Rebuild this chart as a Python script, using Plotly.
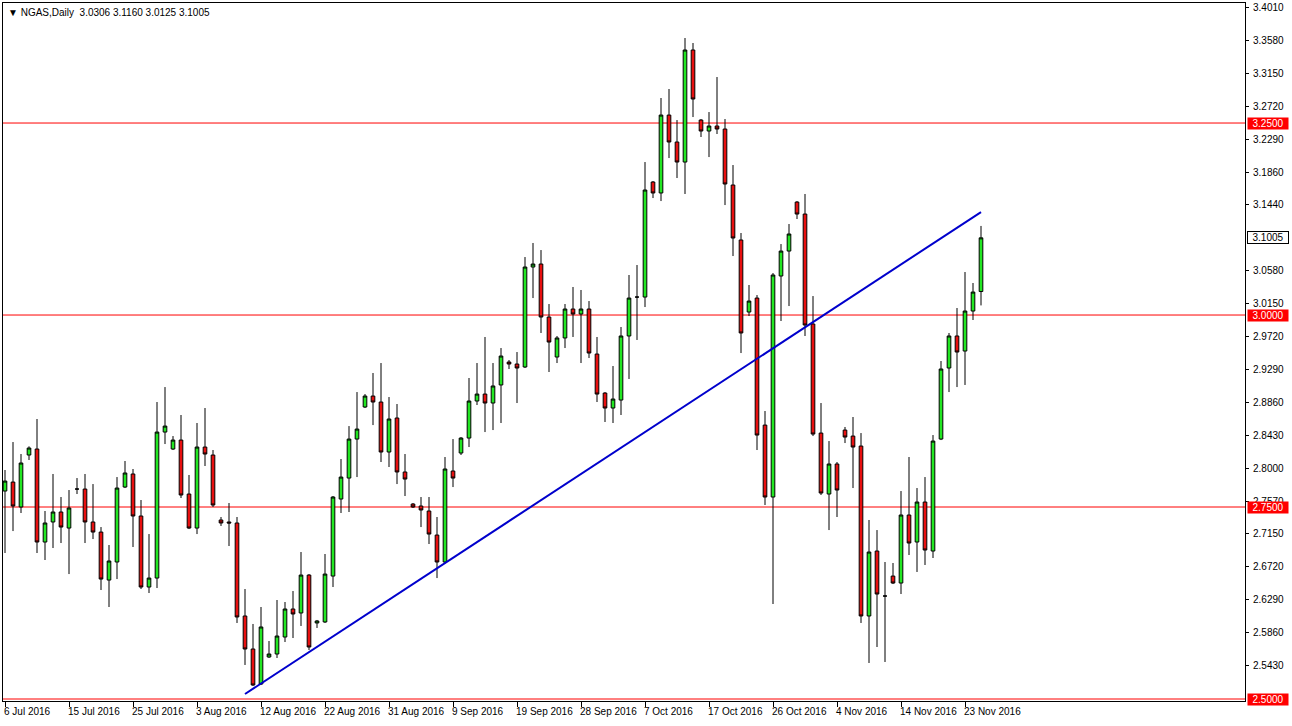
import plotly.graph_objects as go
import pandas as pd

# trading calendar of the feed (Sunday..Friday bars)
dates = pd.bdate_range('2016-07-06', '2016-11-25', freq='C',
                       weekmask='Sun Mon Tue Wed Thu Fri').strftime('%Y-%m-%d').tolist()

opens = [2.7708, 2.7825, 2.7500, 2.8177, 2.8255, 2.7044, 2.7305, 2.7435, 2.7226, 2.7734,
         2.7734, 2.7305, 2.7174, 2.6549, 2.6784, 2.7760, 2.7930, 2.7383, 2.6458, 2.6575,
         2.8476, 2.8255, 2.8372, 2.7669, 2.7226, 2.8281, 2.8177, 2.7331, 2.7305, 2.7292,
         2.6081, 2.5651, 2.5195, 2.5547, 2.5586, 2.5807, 2.6172, 2.6120, 2.6614, 2.5990,
         2.6003, 2.6601, 2.7604, 2.7877, 2.8385, 2.8802, 2.8945, 2.8867, 2.8216, 2.8659,
         2.7956, 2.7539, 2.7513, 2.7448, 2.7135, 2.6784, 2.7969, 2.8203, 2.8398, 2.8880,
         2.8971, 2.8854, 2.9089, 2.9388, 2.9362, 2.9323, 3.0625, 3.0664, 2.9974, 2.9453,
         2.9701, 3.0078, 3.0013, 3.0078, 2.9492, 2.8984, 2.8789, 2.8893, 2.9727, 3.0234,
         3.0234, 3.1732, 3.1589, 3.2604, 3.2253, 3.1992, 3.3451, 3.2539, 3.2396, 3.2461,
         3.2422, 3.1693, 3.0977, 3.0039, 3.0221, 2.8567, 2.7630, 3.0508, 3.0833, 3.1471,
         3.1315, 2.9883, 2.8463, 2.7669, 2.8060, 2.8502, 2.8424, 2.8294, 2.6081, 2.6927,
         2.6341, 2.6601, 2.6510, 2.7396, 2.7044, 2.7565, 2.6927, 2.8385, 2.9310, 2.9727,
         2.9531, 3.0052, 3.0306]
highs = [2.7982, 2.8346, 2.8190, 2.8290, 2.8646, 2.7448, 2.7930, 2.7630, 2.7721, 2.7877,
         2.7930, 2.7799, 2.7239, 2.7005, 2.7890, 2.8099, 2.7995, 2.7591, 2.7148, 2.8867,
         2.9062, 2.8424, 2.8698, 2.7917, 2.8594, 2.8789, 2.8242, 2.7370, 2.7552, 2.7370,
         2.6432, 2.5977, 2.6198, 2.5755, 2.6289, 2.6263, 2.6406, 2.6914, 2.6627, 2.6029,
         2.6888, 2.7643, 2.8125, 2.8554, 2.8997, 2.8971, 2.9245, 2.9375, 2.8932, 2.8841,
         2.8190, 2.7552, 2.7630, 2.7630, 2.7370, 2.8151, 2.8385, 2.8411, 2.9180, 2.9375,
         2.9714, 2.9375, 2.9570, 2.9414, 2.9518, 3.0755, 3.0938, 3.0846, 3.0143, 2.9727,
         3.0143, 3.0365, 3.0326, 3.0182, 2.9714, 2.8997, 2.9336, 2.9844, 3.0521, 3.0651,
         3.1992, 3.1745, 3.2826, 3.2943, 3.2539, 3.3607, 3.3542, 3.2552, 3.2643, 3.3099,
         3.2552, 3.1953, 3.1068, 3.0391, 3.0260, 2.8750, 3.0547, 3.0924, 3.1185, 3.1484,
         3.1576, 3.0247, 2.8854, 2.8359, 2.8086, 2.8542, 2.8672, 2.8463, 2.7331, 2.7200,
         2.6784, 2.6771, 2.7708, 2.8151, 2.7747, 2.7890, 2.8437, 2.9401, 2.9766, 3.0091,
         3.0560, 3.0417, 3.1160]
lows = [2.6901, 2.7187, 2.7422, 2.8112, 2.6901, 2.6810, 2.6966, 2.7031, 2.6627, 2.7669,
        2.7031, 2.7083, 2.6419, 2.6198, 2.6562, 2.7747, 2.6979, 2.6432, 2.6380, 2.6445,
        2.8320, 2.8242, 2.7617, 2.7213, 2.7148, 2.8034, 2.7500, 2.7253, 2.6992, 2.5990,
        2.5443, 2.5169, 2.5182, 2.5534, 2.5534, 2.5742, 2.5794, 2.5951, 2.5638, 2.5925,
        2.5990, 2.6458, 2.7422, 2.7435, 2.7890, 2.8789, 2.8567, 2.8086, 2.8021, 2.7799,
        2.7643, 2.7487, 2.7239, 2.7018, 2.6575, 2.6771, 2.7760, 2.8177, 2.8281, 2.8828,
        2.8476, 2.8502, 2.8594, 2.9297, 2.8854, 2.9310, 3.0221, 2.9766, 2.9258, 2.9375,
        2.9570, 2.9714, 2.9375, 2.9440, 2.8867, 2.8607, 2.8594, 2.8698, 2.9167, 2.9675,
        3.0104, 3.1523, 3.1484, 3.2044, 3.1784, 3.1576, 3.2578, 3.2318, 3.2057, 3.2357,
        3.1432, 3.0768, 2.9505, 2.9987, 2.8242, 2.7526, 2.6237, 2.9922, 3.0117, 3.1250,
        2.9727, 2.8424, 2.7656, 2.7200, 2.7370, 2.8333, 2.7747, 2.5990, 2.5469, 2.5677,
        2.5482, 2.6497, 2.6367, 2.6875, 2.6654, 2.6745, 2.6836, 2.8372, 2.8997, 2.9062,
        2.9089, 2.9935, 3.0125]
closes = [2.7838, 2.7513, 2.8073, 2.8268, 2.7044, 2.7292, 2.7435, 2.7239, 2.7487, 2.7734,
          2.7305, 2.7174, 2.6562, 2.6797, 2.7747, 2.7943, 2.7383, 2.6458, 2.6575, 2.8476,
          2.8554, 2.8372, 2.7656, 2.7226, 2.8281, 2.8190, 2.7526, 2.7292, 2.7292, 2.6068,
          2.5651, 2.5182, 2.5938, 2.5586, 2.5820, 2.6172, 2.6107, 2.6614, 2.5677, 2.6016,
          2.6627, 2.7630, 2.7890, 2.8385, 2.8515, 2.8945, 2.8867, 2.8216, 2.8646, 2.7956,
          2.7864, 2.7500, 2.7461, 2.7148, 2.6784, 2.7995, 2.7877, 2.8398, 2.8880, 2.8971,
          2.8854, 2.9076, 2.9466, 2.9362, 2.9310, 3.0625, 3.0664, 2.9974, 2.9648, 2.9701,
          3.0078, 3.0013, 3.0078, 2.9505, 2.8971, 2.8789, 2.8906, 2.9727, 3.0221, 3.0234,
          3.1628, 3.1589, 3.2604, 3.2253, 3.1992, 3.3451, 3.2813, 3.2396, 3.2461, 3.2422,
          3.1706, 3.1003, 2.9766, 3.0182, 2.8437, 2.7630, 3.0521, 3.0833, 3.1055, 3.1315,
          2.9870, 2.8450, 2.7682, 2.8060, 2.7721, 2.8411, 2.8281, 2.6081, 2.6914, 2.6367,
          2.6341, 2.6510, 2.7396, 2.7031, 2.7565, 2.6940, 2.8359, 2.9297, 2.9727, 2.9518,
          3.0052, 3.0299, 3.1005]

date_label_pos = dates[::8]
date_labels = ['6 Jul 2016', '15 Jul 2016', '25 Jul 2016', '3 Aug 2016', '12 Aug 2016',
               '22 Aug 2016', '31 Aug 2016', '9 Sep 2016', '19 Sep 2016', '28 Sep 2016',
               '7 Oct 2016', '17 Oct 2016', '26 Oct 2016', '4 Nov 2016', '14 Nov 2016',
               '23 Nov 2016']
price_ticks = [3.4010, 3.3580, 3.3150, 3.2720, 3.2290, 3.1860, 3.1440, 3.0580, 3.0150,
               2.9720, 2.9290, 2.8860, 2.8430, 2.8000, 2.7570, 2.7150, 2.6720, 2.6290,
               2.5860, 2.5430]
levels = [3.2500, 3.0000, 2.7500, 2.5000]
trend_dates = ['2016-08-10', '2016-11-25']
trend_prices = [2.5065, 3.1341]
header = '\u25BC NGAS,Daily  3.0306 3.1160 3.0125 3.1005'
last_price = 3.1005

FONT = 'Liberation Sans'
GREEN = '#22e622'
RED = '#e81010'

fig = go.Figure()
fig.add_trace(go.Candlestick(
    x=dates, open=opens, high=highs, low=lows, close=closes,
    increasing=dict(fillcolor=GREEN, line=dict(color='black', width=1)),
    decreasing=dict(fillcolor=RED, line=dict(color='black', width=1)),
    whiskerwidth=0, hoverinfo='skip', showlegend=False))

for lv in levels:
    fig.add_shape(type='line', xref='paper', x0=0, x1=1, yref='y', y0=lv, y1=lv,
                  line=dict(color='#ff0000', width=1), layer='below')
    fig.add_annotation(xref='paper', x=1, yref='y', y=lv, xanchor='left', yanchor='middle',
                       text='%.4f' % lv, showarrow=False, xshift=2, width=40, height=11,
                       font=dict(family=FONT, size=10, color='white'),
                       bgcolor='#ff0000', borderpad=0)

fig.add_shape(type='line', xref='x', yref='y', x0=trend_dates[0], y0=trend_prices[0],
              x1=trend_dates[1], y1=trend_prices[1], line=dict(color='#0000cc', width=2))

fig.add_annotation(xref='paper', x=1, yref='y', y=last_price, xanchor='left', yanchor='middle',
                   text='%.4f' % last_price, showarrow=False, xshift=2, width=40, height=11,
                   font=dict(family=FONT, size=10, color='black'),
                   bgcolor='white', bordercolor='black', borderwidth=1, borderpad=0)

for d, t in zip(date_label_pos, date_labels):
    fig.add_annotation(xref='x', x=d, yref='paper', y=0, xanchor='left', yanchor='top',
                       text=t, showarrow=False, xshift=-3, yshift=-3,
                       font=dict(family=FONT, size=10, color='black'))

fig.add_annotation(xref='paper', x=0, yref='paper', y=1, xanchor='left', yanchor='top',
                   text=header, showarrow=False, xshift=3, yshift=-2,
                   font=dict(family=FONT, size=10, color='black'))

fig.update_layout(
    width=1292, height=726,
    margin=dict(l=3, r=47, t=3, b=25, autoexpand=False),
    paper_bgcolor='white', plot_bgcolor='white',
    font=dict(family=FONT, size=10, color='black'),
    xaxis=dict(type='category', range=[-0.25, 155], rangeslider=dict(visible=False),
               automargin=False,
               showgrid=False, zeroline=False, showline=True, mirror=True,
               linecolor='black', linewidth=1,
               tickmode='array', tickvals=date_label_pos, ticktext=['' for _ in date_labels],
               ticks='outside', ticklen=5, tickcolor='black', showticklabels=False),
    yaxis=dict(side='right', range=[2.4974, 3.4063], showgrid=False, zeroline=False,
               automargin=False,
               showline=True, mirror=True, linecolor='black', linewidth=1,
               tickmode='array', tickvals=price_ticks,
               ticktext=['%.4f' % v for v in price_ticks],
               ticks='outside', ticklen=3, tickcolor='black', ticklabelstandoff=2,
               tickfont=dict(family=FONT, size=10, color='black')),
    boxgap=0.35,
)

fig.write_html('out.html', config={'displayModeBar': False},
               post_script="document.body.style.margin='0';document.body.style.overflow='hidden';")
